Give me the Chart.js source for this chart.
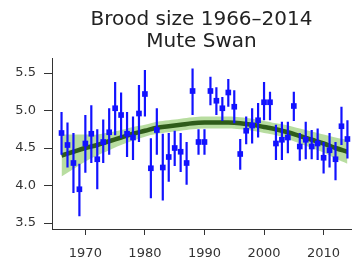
<!DOCTYPE html>
<html><head><meta charset="utf-8">
<script src="https://cdn.jsdelivr.net/npm/chart.js@4.4.0/dist/chart.umd.min.js"></script>
<style>html,body{margin:0;padding:0;background:#fff}#wrap{width:355px;height:263px}</style>
</head><body><div id="wrap"><canvas id="c" width="355" height="263"></canvas></div>
<script>
const years = [1966,1967,1968,1969,1970,1971,1972,1973,1974,1975,1976,1977,1978,1979,1980,1981,1982,1983,1984,1985,1986,1987,1988,1989,1990,1991,1992,1993,1994,1995,1996,1997,1998,1999,2000,2001,2002,2003,2004,2005,2006,2007,2008,2009,2010,2011,2012,2013,2014];
const means = [4.70,4.54,4.30,3.95,4.56,4.69,4.35,4.58,4.71,5.03,4.94,4.69,4.64,4.96,5.22,4.23,4.74,4.24,4.38,4.50,4.45,4.30,5.26,4.58,4.58,5.26,5.13,5.03,5.24,5.05,4.42,4.73,4.80,4.87,5.11,5.11,4.56,4.61,4.64,5.06,4.52,4.61,4.52,4.56,4.37,4.47,4.35,4.79,4.62];
const upper = [4.98,4.84,4.70,4.29,4.94,5.07,4.75,4.88,5.03,5.38,5.24,4.98,4.92,5.34,5.54,4.63,5.03,4.69,4.70,4.73,4.70,4.58,5.56,4.75,4.75,5.45,5.31,5.18,5.42,5.27,4.62,4.92,5.03,5.10,5.38,5.25,4.81,4.85,4.85,5.25,4.70,4.85,4.74,4.76,4.58,4.70,4.58,5.05,4.87];
const lower = [4.41,4.24,3.90,3.59,4.17,4.30,3.95,4.30,4.41,4.67,4.63,4.38,4.34,4.58,4.92,3.83,4.41,3.80,4.05,4.26,4.18,4.01,4.94,4.41,4.41,5.07,4.94,4.86,5.05,4.83,4.21,4.55,4.56,4.64,4.87,4.87,4.34,4.34,4.43,4.86,4.33,4.35,4.35,4.34,4.16,4.24,4.07,4.54,4.36];
const trendYears = [1966,1968,1970,1972,1974,1976,1978,1980,1982,1984,1986,1988,1990,1992,1994,1996,1998,2000,2002,2004,2006,2008,2010,2012,2014];
const trend = [4.40,4.45,4.50,4.54,4.59,4.64,4.69,4.73,4.77,4.79,4.81,4.83,4.84,4.84,4.84,4.83,4.81,4.78,4.75,4.71,4.66,4.61,4.56,4.50,4.45];
const bandHigh = [4.68,4.68,4.68,4.68,4.71,4.74,4.78,4.81,4.85,4.87,4.89,4.91,4.92,4.92,4.92,4.91,4.89,4.86,4.83,4.80,4.76,4.72,4.68,4.64,4.61];
const bandLow = [4.12,4.22,4.32,4.40,4.47,4.54,4.60,4.65,4.69,4.71,4.73,4.75,4.76,4.76,4.76,4.75,4.73,4.70,4.67,4.62,4.56,4.50,4.44,4.36,4.29];
const xTicks = [1970,1980,1990,2000,2010];
const yTicks = [3.5,4.0,4.5,5.0,5.5];
const titleLines = ['Brood size 1966\u20132014','Mute Swan'];

const BLUE = 'rgb(18,18,255)';
const pts = years.map((y,i)=>({x:y,y:means[i]}));
const tr = trendYears.map((y,i)=>({x:y,y:trend[i]}));
const bh = trendYears.map((y,i)=>({x:y,y:bandHigh[i]}));
const bl = trendYears.map((y,i)=>({x:y,y:bandLow[i]}));

const errPlugin = {
  id:'errbars',
  beforeDatasetDraw(chart,args){
    if(args.index!==0) return;
    const ctx=chart.ctx, xs=chart.scales.x, ys=chart.scales.y;
    ctx.save();
    ctx.strokeStyle=BLUE; ctx.lineWidth=2.2;
    years.forEach((yr,i)=>{
      const px=xs.getPixelForValue(yr);
      ctx.beginPath();
      ctx.moveTo(px,ys.getPixelForValue(lower[i]));
      ctx.lineTo(px,ys.getPixelForValue(upper[i]));
      ctx.stroke();
    });
    ctx.restore();
  }
};

new Chart(document.getElementById('c'),{
  type:'line',
  data:{datasets:[
    {data:pts,showLine:false,pointStyle:'rect',pointRadius:4,pointBackgroundColor:BLUE,pointBorderColor:BLUE,pointBorderWidth:0},
    {data:tr,borderColor:'#2f5c1a',borderWidth:4.5,pointRadius:0,tension:0.4,fill:false,borderCapStyle:'butt'},
    {data:bh,borderWidth:0,borderColor:'rgba(0,0,0,0)',pointRadius:0,tension:0.4,fill:'+1',backgroundColor:'rgba(176,217,150,0.9)'},
    {data:bl,borderWidth:0,borderColor:'rgba(0,0,0,0)',pointRadius:0,tension:0.4,fill:false}
  ]},
  options:{
    responsive:false,animation:false,
    layout:{padding:0},
    plugins:{
      legend:{display:false},tooltip:{enabled:false},
      title:{display:true,text:titleLines,fullSize:false,color:'#222',
        font:{family:'DejaVu Sans',size:20,weight:'normal',lineHeight:'22px'},
        padding:{top:9,bottom:5}}
    },
    scales:{
      x:{type:'linear',min:1964.4,max:2014.6,
        afterBuildTicks(s){s.ticks=xTicks.map(v=>({value:v}));},
        afterFit(s){s.height=34;},
        grid:{display:true,drawOnChartArea:false,drawTicks:true,tickLength:6,color:'#333',lineWidth:1},
        border:{display:true,color:'#333',width:1},
        ticks:{padding:11,color:'#333',font:{family:'DejaVu Sans',size:13},maxRotation:0,autoSkip:false,callback:v=>String(v)}
      },
      y:{type:'linear',min:3.42,max:5.7,
        afterBuildTicks(s){s.ticks=yTicks.map(v=>({value:v}));},
        afterFit(s){s.width=52;},
        grid:{display:true,drawOnChartArea:false,drawTicks:true,tickLength:8,color:'#333',lineWidth:1},
        border:{display:true,color:'#333',width:1},
        ticks:{padding:8,color:'#333',font:{family:'DejaVu Sans',size:13},autoSkip:false,callback:v=>v.toFixed(1)}
      }
    }
  },
  plugins:[errPlugin]
});
</script></body></html>
